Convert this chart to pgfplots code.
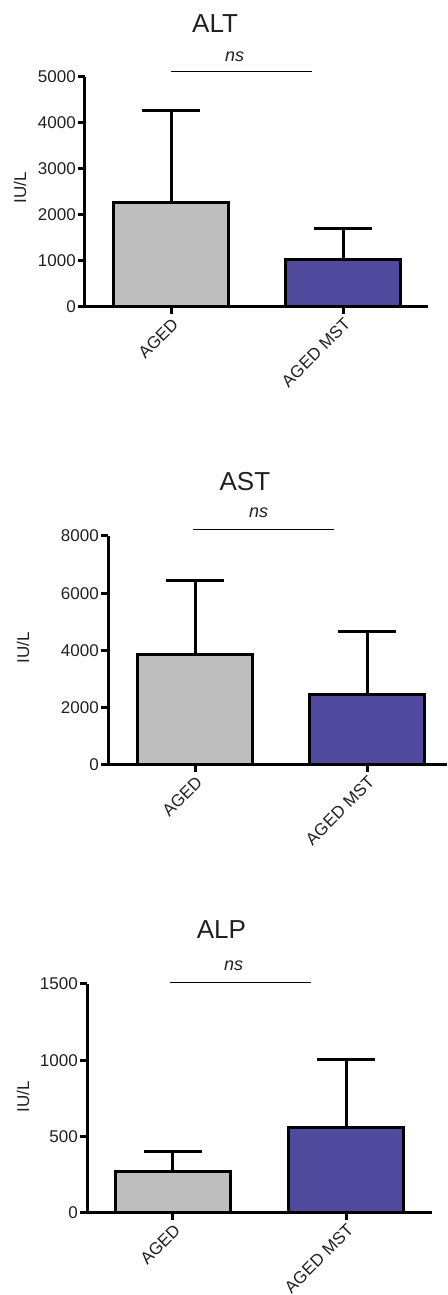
\documentclass[border=0pt]{standalone}
\usepackage{fontspec}
\setmainfont{Liberation Sans}
\usepackage{pgfplots}
\pgfplotsset{compat=1.18}
\definecolor{barblue}{RGB}{79,74,158}
\definecolor{bargray}{RGB}{190,190,190}
\definecolor{txt}{RGB}{35,31,32}
\pgfplotsset{
  panel/.style={
    scale only axis, clip=false,
    axis x line=bottom, axis y line=left,
    axis line style={-, line width=3pt, black},
    every outer x axis line/.append style={-},
    every outer y axis line/.append style={-},
    ymin=0,
    xtick={0,1}, xticklabels={AGED, AGED MST},
    xticklabel style={rotate=45, anchor=north east, font=\fontsize{17}{20}\selectfont, inner sep=2pt, text=txt},
    yticklabel style={font=\fontsize{17}{20}\selectfont, inner sep=2pt, text=txt},
    /pgf/number format/assume math mode=true,
    /pgf/number format/1000 sep={},
    tick style={line width=3pt, black},
    major tick length=7pt,
    tick align=outside,
  },
  gbar/.style={ybar, bar width=115pt, bar shift=0pt, fill=bargray, draw=black, line width=3pt,
    error bars/.cd, y dir=plus, y explicit, error mark=|,
    error bar style={line width=3pt, black},
    error mark options={line width=3pt, mark size=29pt, black}},
  bbar/.style={ybar, bar width=115pt, bar shift=0pt, fill=barblue, draw=black, line width=3pt,
    error bars/.cd, y dir=plus, y explicit, error mark=|,
    error bar style={line width=3pt, black},
    error mark options={line width=3pt, mark size=29pt, black}},
}
\tikzset{
  ttl/.style={font=\fontsize{26}{30}\selectfont, text=txt},
  nsl/.style={font=\fontsize{18}{20}\selectfont\itshape, text=txt},
  ylab/.style={rotate=90, font=\fontsize{17}{20}\selectfont, text=txt},
}
\begin{document}
\begin{tikzpicture}
% ALT
\begin{axis}[panel, at={(85pt,988pt)}, anchor=south west,
  width=343pt, height=230pt, xmin=-0.5, xmax=1.494,
  ymax=5000, ytick={0,1000,2000,3000,4000,5000}]
\addplot[gbar] coordinates {(0,2280) +- (0,2000)};
\addplot[bbar] coordinates {(1,1035) +- (0,665)};
\node[ttl] at (axis cs:0.256,6152) {ALT};
\node[nsl] at (axis cs:0.37,5435) {ns};
\draw[line width=1pt, black] (axis cs:0,5109) -- (axis cs:0.82,5109);
\node[ylab] at (axis cs:-0.878,2587) {IU/L};
\end{axis}
% AST
\begin{axis}[panel, at={(108pt,530pt)}, anchor=south west,
  width=339pt, height=229pt, xmin=-0.506, xmax=1.465,
  ymax=8000, ytick={0,2000,4000,6000,8000}]
\addplot[gbar] coordinates {(0,3850) +- (0,2580)};
\addplot[bbar] coordinates {(1,2480) +- (0,2190)};
\node[ttl] at (axis cs:0.29,9886) {AST};
\node[nsl] at (axis cs:0.37,8803) {ns};
\draw[line width=1pt, black] (axis cs:-0.01,8210) -- (axis cs:0.81,8210);
\node[ylab] at (axis cs:-1.0,4087) {IU/L};
\end{axis}
% ALP
\begin{axis}[panel, at={(87pt,82pt)}, anchor=south west,
  width=345pt, height=229pt, xmin=-0.497, xmax=1.497,
  ymax=1500, ytick={0,500,1000,1500}]
\addplot[gbar] coordinates {(0,275) +- (0,125)};
\addplot[bbar] coordinates {(1,557) +- (0,448)};
\node[ttl] at (axis cs:0.28,1854) {ALP};
\node[nsl] at (axis cs:0.35,1618) {ns};
\draw[line width=1pt, black] (axis cs:-0.02,1513) -- (axis cs:0.80,1513);
\node[ylab] at (axis cs:-0.867,760) {IU/L};
\end{axis}
\pgfresetboundingbox
\path[use as bounding box] (0,0) rectangle (447pt,1295pt);
\end{tikzpicture}
\end{document}
